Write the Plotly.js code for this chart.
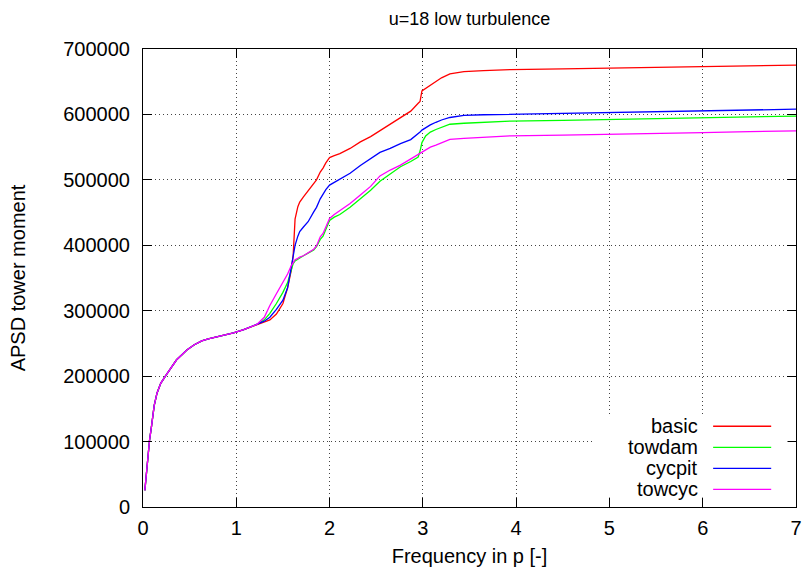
<!DOCTYPE html>
<html>
<head>
<meta charset="utf-8">
<script src="https://cdn.plot.ly/plotly-3.0.1.min.js"></script>
<style>
  html, body { margin: 0; padding: 0; background: #ffffff; }
  #chart { width: 803px; height: 573px; }
</style>
</head>
<body>
<div id="chart"></div>
<script>
// Frequency grid shared by all four cases (in p)
const freq = [
  0.02, 0.05, 0.07, 0.09, 0.12, 0.15, 0.19, 0.24, 0.30, 0.36, 0.42, 0.47, 0.55, 0.63, 0.70, 0.79, 0.97, 1.08, 1.22,
  1.30, 1.36, 1.43, 1.50, 1.55, 1.59, 1.61, 1.63, 1.66, 1.68, 1.72, 1.77, 1.83, 1.86, 1.90, 1.93,
  1.96, 2.00, 2.05, 2.11, 2.22, 2.33, 2.44, 2.54, 2.65, 2.76, 2.87, 2.95, 2.97, 2.99, 3.03, 3.08,
  3.14, 3.20, 3.29, 3.44, 3.65, 3.94, 4.5, 5, 5.5, 6, 6.5, 7
];

// Low-frequency part is identical for every case
const lowBand = [
  25500, 80000, 102000, 122000, 155000, 174000, 189000, 200000, 213000, 225000, 233000, 240000, 248000, 254000, 257000,
  260000, 266000, 271000, 279000
];

const basic = lowBand.concat([
  283000, 286000, 295000, 311000, 335000, 362000, 385000, 440000, 459000, 466000, 474000, 484000, 495000, 500000, 512000, 518000,
  526000, 534000, 537000, 540000, 548000, 558000, 566000, 575000, 584000, 594000, 605000, 617000, 620000, 636000, 640000, 645000,
  650000, 656000, 662000, 665500, 667000, 668500, 669500, 670500, 671500, 673000, 674200, 675500
]);

const towdam = lowBand.concat([
  286000, 296000, 311000, 328000, 343000, 362000, 372000, 376000, 379000, 381000, 384000, 388000, 393000, 398000, 409000, 414000,
  424000, 438000, 443000, 447000, 458000, 471000, 484000, 498000, 509000, 520000, 528000, 535000, 544000, 557000, 567000, 573000,
  577000, 580500, 585000, 586500, 588000, 589800, 591000, 592300, 593600, 594900, 596200, 597500
]);

const cycpit = lowBand.concat([
  284000, 290000, 302000, 316000, 335000, 367000, 384000, 400000, 414000, 421000, 428000, 436000, 451000, 458000, 471000, 479000,
  485000, 492000, 496000, 500000, 510000, 522000, 533000, 542000, 548000, 555500, 561500, 570000, 573000, 576000, 580000, 584000,
  588000, 591500, 595300, 598500, 599500, 600300, 601500, 602500, 603800, 605100, 606600, 608000
]);

const towcyc = lowBand.concat([
  290000, 308000, 326000, 343000, 356000, 369000, 374000, 378000, 380000, 382000, 384000, 389000, 394000, 399000, 413000, 418000,
  428000, 441000, 447000, 453000, 464000, 477000, 490000, 506000, 515000, 522500, 532000, 538000, 540000, 542000, 545000, 550000,
  553000, 557000, 562000, 563500, 565000, 567300, 568300, 569300, 570800, 572300, 573600, 575000
]);

const seriesNames = ['basic', 'towdam', 'cycpit', 'towcyc'];
const seriesValues = [basic, towdam, cycpit, towcyc];
const seriesColors = ['#ff0000', '#00ff00', '#0000ff', '#ff00ff'];

const xTicks = [0, 1, 2, 3, 4, 5, 6, 7];
const yTicks = [0, 100000, 200000, 300000, 400000, 500000, 600000, 700000];

const FONT = 'Liberation Sans, Arial, sans-serif';
const TEXT_SIZE = 20;

const traces = seriesNames.map((name, i) => ({
  type: 'scatter',
  mode: 'lines',
  name: name,
  x: freq,
  y: seriesValues[i],
  line: { color: seriesColors[i], width: 1.3 },
  showlegend: false
}));

// Key box in the lower right corner: opaque background, label right-aligned, sample line to its right
const keyTop = 0.198, keyBottom = 0.021, keyLeft = 0.689, keyRight = 0.987;
const keyRows = [0.1763, 0.1304, 0.0845, 0.0387];
const shapes = [{
  type: 'rect', xref: 'paper', yref: 'paper', layer: 'above',
  x0: keyLeft, x1: keyRight, y0: keyBottom, y1: keyTop,
  fillcolor: '#ffffff', line: { width: 0 }
}];
const annotations = [];
seriesNames.forEach((name, i) => {
  shapes.push({
    type: 'line', xref: 'paper', yref: 'paper', layer: 'above',
    x0: 0.8731, x1: 0.9620, y0: keyRows[i], y1: keyRows[i],
    line: { color: seriesColors[i], width: 1.3 }
  });
  annotations.push({
    xref: 'paper', yref: 'paper', x: 0.8534, y: keyRows[i],
    xanchor: 'right', yanchor: 'middle', showarrow: false,
    text: name, font: { family: FONT, size: TEXT_SIZE, color: '#000000' }
  });
});

const axisCommon = {
  showline: true, linecolor: '#000000', linewidth: 1, mirror: 'ticks',
  ticks: 'inside', ticklen: 9, tickcolor: '#000000', tickwidth: 1,
  showgrid: true, gridcolor: '#444444', gridwidth: 1, griddash: '1px,3px',
  zeroline: false,
  tickfont: { family: FONT, size: TEXT_SIZE, color: '#000000' }
};

const layout = {
  width: 803, height: 573,
  margin: { l: 143, r: 7, t: 49, b: 66, pad: 0 },
  paper_bgcolor: '#ffffff', plot_bgcolor: '#ffffff',
  title: {
    text: 'u=18 low turbulence',
    font: { family: FONT, size: 18, color: '#000000' },
    xref: 'paper', x: 0.5, xanchor: 'center',
    yref: 'container', y: 0.968, yanchor: 'middle'
  },
  xaxis: Object.assign({}, axisCommon, {
    range: [0, 7], tickvals: xTicks, ticktext: xTicks.map(String),
    ticklabelstandoff: 3,
    title: { text: 'Frequency in p [-]', font: { family: FONT, size: TEXT_SIZE, color: '#000000' }, standoff: 10 }
  }),
  yaxis: Object.assign({}, axisCommon, {
    range: [0, 700000], tickvals: yTicks, ticktext: yTicks.map(String),
    ticklabelstandoff: 8,
    title: { text: 'APSD tower moment', font: { family: FONT, size: TEXT_SIZE, color: '#000000' }, standoff: 32 }
  }),
  shapes: shapes,
  annotations: annotations,
  showlegend: false
};

Plotly.newPlot('chart', traces, layout, { displayModeBar: false, staticPlot: true });
</script>
</body>
</html>
